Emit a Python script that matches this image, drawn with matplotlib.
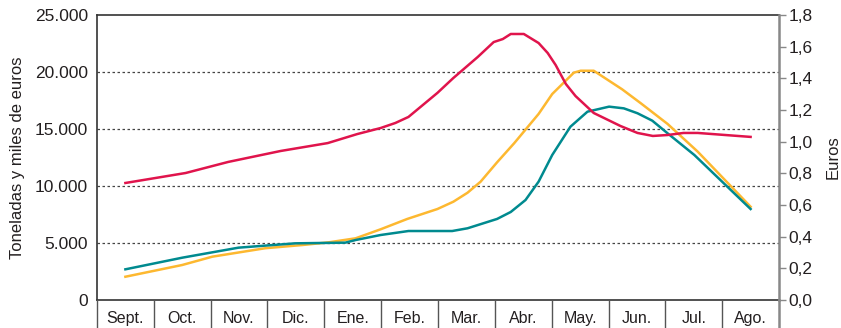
import matplotlib.pyplot as plt
from matplotlib.ticker import FuncFormatter

plt.rcParams['font.family'] = ['Liberation Sans', 'DejaVu Sans']

meses = ['Sept.', 'Oct.', 'Nov.', 'Dic.', 'Ene.', 'Feb.', 'Mar.', 'Abr.',
         'May.', 'Jun.', 'Jul.', 'Ago.']

# posiciones en meses (0 = Sept.) y valores
amarillo_x = [0, 1.0, 1.53, 2.46, 3.11, 3.58, 4.05, 4.49, 4.96, 5.49, 5.77, 6.02,
              6.25, 6.54, 6.84, 7.27, 7.51, 7.89, 8.01, 8.24, 8.74, 9.07, 9.54,
              10.07, 11.0]
amarillo_y = [2040, 3070, 3800, 4540, 4820, 5060, 5410, 6200, 7110, 7980, 8620, 9410,
              10380, 12080, 13750, 16320, 18070, 19940, 20110, 20110, 18480, 17250, 15440,
              13010, 8180]

verde_x = [0, 1.0, 1.99, 2.99, 3.87, 4.05, 4.49, 4.98, 5.75, 6.02, 6.54, 6.78,
           7.04, 7.27, 7.51, 7.83, 8.13, 8.51, 8.77, 9.01, 9.27, 9.54, 10.01, 11.0]
verde_y = [2690, 3710, 4590, 4970, 5030, 5260, 5700, 6050, 6050, 6290, 7110, 7720,
           8770, 10380, 12720, 15200, 16520, 16960, 16810, 16380, 15730, 14620, 12720, 7980]

# precio en euros (eje derecho)
rojo_x = [0, 1.06, 1.81, 2.73, 3.56, 4.08, 4.49, 4.75, 4.98, 5.49, 5.77, 6.20,
          6.48, 6.64, 6.78, 7.01, 7.27, 7.43, 7.57, 7.75, 7.92, 8.24, 8.71, 9.01,
          9.28, 9.54, 9.82, 10.07, 11.0]
rojo_y = [0.739, 0.802, 0.872, 0.941, 0.991, 1.048, 1.086, 1.118, 1.156, 1.308, 1.402, 1.535,
          1.629, 1.648, 1.680, 1.680, 1.623, 1.560, 1.484, 1.364, 1.288, 1.181, 1.099, 1.055,
          1.036, 1.042, 1.055, 1.055, 1.030]

fig = plt.figure(figsize=(8.41, 3.28), dpi=100)
ax = fig.add_axes([0.1153, 0.0854, 0.8110, 0.8689])
ax2 = ax.twinx()

# rejilla punteada
for v in [5000, 10000, 15000, 20000]:
    ax.axhline(v, color='#444444', linestyle=(0, (2, 2)), linewidth=0.9, zorder=1)

ax.plot(verde_x, verde_y, color='#008A8F', linewidth=1.8, zorder=3)
ax.plot(amarillo_x, amarillo_y, color='#FDB830', linewidth=1.8, zorder=2)
ax2.plot(rojo_x, rojo_y, color='#E0144C', linewidth=1.8)

ax.set_xlim(-0.5, 11.5)
ax.set_ylim(0, 25000)
ax2.set_ylim(0, 1.8)

ax.set_yticks([0, 5000, 10000, 15000, 20000, 25000])
ax.yaxis.set_major_formatter(FuncFormatter(lambda v, p: '0' if v == 0 else f'{int(v):,}'.replace(',', '.')))
ax.tick_params(axis='y', length=0, pad=6.5, labelsize=12.5, colors='#231F20')
ax.set_ylabel('Toneladas y miles de euros', fontsize=12, color='#231F20', labelpad=7)

ax2.set_yticks([i * 0.2 for i in range(10)])
ax2.yaxis.set_major_formatter(FuncFormatter(lambda v, p: f'{v:.1f}'.replace('.', ',')))
ax2.tick_params(axis='y', length=5, width=1, color='#888888', pad=2, labelsize=12.5, labelcolor='#231F20')
ax2.set_ylabel('Euros', fontsize=12, color='#231F20', labelpad=9)

ax.set_xticks(range(12))
ax.set_xticklabels(meses)
ax.tick_params(axis='x', length=0, pad=8, labelsize=11.5, colors='#231F20')

for s in ['left', 'top', 'bottom']:
    ax.spines[s].set_color('#333333')
    ax.spines[s].set_linewidth(1.2)
ax.spines['right'].set_visible(False)
for s in ['left', 'top', 'bottom']:
    ax2.spines[s].set_visible(False)
ax2.spines['right'].set_color('#888888')
ax2.spines['right'].set_linewidth(1.8)

# separadores de las celdas de los meses
trans = ax.get_xaxis_transform()
for k in range(13):
    c = '#888888' if k == 12 else '#555555'
    lw = 1.8 if k == 12 else 1.0
    ax.plot([k - 0.5, k - 0.5], [0, -0.11], transform=trans, color=c,
            linewidth=lw, clip_on=False, zorder=4)

plt.savefig('out.png', dpi=100)
